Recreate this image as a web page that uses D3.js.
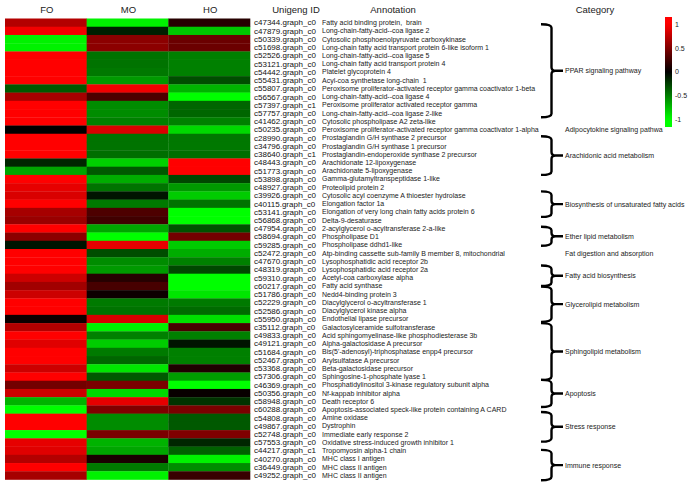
<!DOCTYPE html>
<html><head><meta charset="utf-8">
<script src="https://cdn.jsdelivr.net/npm/d3@7"></script>
<style>
html,body{margin:0;padding:0;background:#fff;}
svg{display:block;font-family:"Liberation Sans",Arial,sans-serif;}
</style></head>
<body><svg id="chart" width="689" height="483"></svg>
<script>
const samples = ["FO","MO","HO"];
const ids = ["c47344.graph_c0","c47879.graph_c0","c50339.graph_c0","c51698.graph_c0","c52526.graph_c0","c53121.graph_c0","c54442.graph_c0","c55431.graph_c0","c55807.graph_c0","c56567.graph_c0","c57397.graph_c1","c57757.graph_c0","c41462.graph_c0","c50235.graph_c0","c28990.graph_c0","c34796.graph_c0","c38640.graph_c1","c48443.graph_c0","c51773.graph_c0","c53898.graph_c0","c48927.graph_c0","c39926.graph_c0","c40115.graph_c0","c53141.graph_c0","c56868.graph_c0","c47954.graph_c0","c58694.graph_c0","c59285.graph_c0","c52472.graph_c0","c47670.graph_c0","c48319.graph_c0","c59310.graph_c0","c60217.graph_c0","c51786.graph_c0","c52229.graph_c0","c52586.graph_c0","c55950.graph_c0","c35112.graph_c0","c49833.graph_c0","c49121.graph_c0","c51684.graph_c0","c52467.graph_c0","c53368.graph_c0","c57306.graph_c0","c46369.graph_c0","c50356.graph_c0","c58948.graph_c0","c60288.graph_c0","c54808.graph_c0","c49867.graph_c0","c52748.graph_c0","c57553.graph_c0","c44217.graph_c1","c40270.graph_c0","c36449.graph_c0","c49252.graph_c0"];
const annotations = ["Fatty acid binding protein,  brain","Long-chain-fatty-acid--coa ligase 2","Cytosolic phosphoenolpyruvate carboxykinase","Long-chain fatty acid transport protein 6-like isoform 1","Long-chain-fatty-acid--coa ligase 5","Long-chain fatty acid transport protein 4","Platelet glycoprotein 4","Acyl-coa synthetase long-chain  1","Peroxisome proliferator-activated receptor gamma coactivator 1-beta","Long-chain-fatty-acid--coa ligase 4","Peroxisome proliferator activated receptor gamma","Long-chain-fatty-acid--coa ligase 2-like","Cytosolic phospholipase A2 zeta-like","Peroxisome proliferator-activated receptor gamma coactivator 1-alpha","Prostaglandin G/H synthase 2 precursor","Prostaglandin G/H synthase 1 precursor","Prostaglandin-endoperoxide synthase 2 precursor","Arachidonate 12-lipoxygenase","Arachidonate 5-lipoxygenase","Gamma-glutamyltranspeptidase 1-like","Proteolipid protein 2","Cytosolic acyl coenzyme A thioester hydrolase","Elongation factor 1a","Elongation of very long chain fatty acids protein 6","Delta-9-desaturase","2-acylglycerol o-acyltransferase 2-a-like","Phospholipase D1","Phospholipase ddhd1-like","Atp-binding cassette sub-family B member 8, mitochondrial","Lysophosphatidic acid receptor 2b","Lysophosphatidic acid receptor 2a","Acetyl-coa carboxylase alpha","Fatty acid synthase","Nedd4-binding protein 3","Diacylglycerol o-acyltransferase 1","Diacylglycerol kinase alpha","Endothelial lipase precursor","Galactosylceramide sulfotransferase","Acid sphingomyelinase-like phosphodiesterase 3b","Alpha-galactosidase A precursor","Bis(5'-adenosyl)-triphosphatase enpp4 precursor","Arylsulfatase A precursor","Beta-galactosidase precursor","Sphingosine-1-phosphate lyase 1","Phosphatidylinositol 3-kinase regulatory subunit alpha","Nf-kappab inhibitor alpha","Death receptor 6","Apoptosis-associated speck-like protein containing A CARD","Amine oxidase","Dystrophin","Immediate early response 2","Oxidative stress-induced growth inhibitor 1","Tropomyosin alpha-1 chain","MHC class I antigen","MHC class II antigen","MHC class II antigen"];
const foValues = [0.7,0.95,-0.95,-0.95,1,1,1,1,-0.35,0.65,1,1,1,0,1,1,1,-0.15,-0.65,1,0.9,0.85,1,0.65,0.6,1,0.55,-0.08,1,1,1,0.8,0.63,0.8,1,1,0.05,0.7,1,0.88,1,1,0.8,1,0.45,0.8,-0.7,-1,1,1,-1,0.9,0.88,0.7,1,0.65];
const moValues = [-0.95,-0.12,0.55,0.55,-0.45,-0.45,-0.47,-0.6,0.95,0.3,-0.55,-0.55,-0.5,0.85,-0.45,-0.45,-0.43,-0.82,-0.35,-0.68,-0.45,-0.08,-0.48,0.3,0.25,-0.65,-1,0.9,-0.3,-0.55,-0.6,0.15,0.28,0.05,-0.48,-0.45,0.85,-0.95,-0.5,-0.8,-0.48,-0.4,-0.9,-0.35,0.48,-0.85,0.9,0.5,-0.55,-0.55,0.48,-0.7,-0.65,0.1,-0.48,-0.95];
const hoValues = [0.15,-0.78,0.42,0.42,-0.5,-0.5,-0.5,-0.3,-0.7,-1,-0.4,-0.4,-0.5,-0.85,-0.47,-0.47,-0.43,1,1,-0.28,-0.6,-0.8,-0.45,-1,-1,-0.32,0.45,-0.8,-0.68,-0.5,-0.28,-1,-1,-0.9,-0.48,-0.42,-0.88,0.28,-0.5,-0.08,-0.5,-0.5,0.12,-0.62,-1,0.03,-0.2,0.48,-0.35,-0.35,0.5,-0.15,-0.38,-0.95,-0.55,0.22];
// categories: span in row units (1 = first row)
const catNames = ["PPAR signaling pathway","Adipocytokine signaling pathwa","Arachidonic acid metabolism","Biosynthesis of unsaturated fatty acids","Ether lipid metabolism","Fat digestion and absorption","Fatty acid biosynthesis","Glycerolipid metabolism","Sphingolipid metabolism","Apoptosis","Stress response","Immune response"];
const catFrom = [1.2,14,14.8,21.5,25.8,29,30.5,33.05,37.5,44.4,48.3,52.9];
const catTo   = [12.5,14,19.5,24.6,28.1,29,33.0,37.35,44.4,47.7,51.9,56.6];
const legendTicks = [1,0.5,0,-0.5,-1];
const legendDomain = [-1.15,1.15];

const svg = d3.select("#chart");
const color = d3.scaleLinear().domain([-1,0,1]).range(["#00ff00","#000000","#ff0000"]).clamp(true);

const x = d3.scaleBand().domain(samples).range([5,250]);
const y = d3.scaleBand().domain(ids).range([18.5,479.5]);
const yRow = d3.scaleLinear().domain([0.5, ids.length+0.5]).range([18.5,479.5]);

const values = {FO: foValues, MO: moValues, HO: hoValues};
const cells = [];
samples.forEach(s => ids.forEach((id,i) => cells.push({s, id, v: values[s][i]})));

svg.append("g").selectAll("rect").data(cells).join("rect")
  .attr("x", d => x(d.s)).attr("y", d => y(d.id))
  .attr("width", x.bandwidth()+0.3).attr("height", y.bandwidth()+0.3)
  .attr("fill", d => color(d.v));

// column headers
svg.append("g").selectAll("text").data(samples).join("text")
  .attr("x", d => x(d) + x.bandwidth()/2 + 1).attr("y", 12.5)
  .attr("text-anchor","middle").attr("font-size","9.5px").attr("fill","#222").text(d => d);
const headers = [{t:"Unigeng ID", x:296},{t:"Annotation", x:393},{t:"Category", x:595}];
svg.append("g").selectAll("text").data(headers).join("text")
  .attr("x", d => d.x).attr("y", 12.5).attr("text-anchor","middle")
  .attr("font-size","9.5px").attr("fill","#222").text(d => d.t);

// row labels
svg.append("g").selectAll("text").data(ids).join("text")
  .attr("x", 254).attr("y", d => y(d) + y.bandwidth()/2).attr("dy","0.35em")
  .attr("font-size","8px").attr("fill","#111").text(d => d);
svg.append("g").selectAll("text").data(annotations).join("text")
  .attr("x", 322).attr("y", (d,i) => y(ids[i]) + y.bandwidth()/2).attr("dy","0.35em")
  .attr("font-size","7px").attr("fill","#222").style("white-space","pre").attr("xml:space","preserve").text(d => d);

// category braces
const cats = catNames.map((n,i) => ({n, a: catFrom[i], b: catTo[i]}));
const xl = 541, xv = 551.5, xt = 563;
function bracePath(y0, y1){
  const ym = (y0+y1)/2, r = 3.5;
  return `M${xl},${y0} Q${xv},${y0} ${xv},${y0+r} L${xv},${ym-r} Q${xv},${ym} ${xv+4},${ym} L${xt},${ym}` +
         ` M${xv+4},${ym} Q${xv},${ym} ${xv},${ym+r} L${xv},${y1-r} Q${xv},${y1} ${xl},${y1}`;
}
svg.append("g").selectAll("path").data(cats.filter(c => c.b > c.a)).join("path")
  .attr("d", c => bracePath(yRow(c.a), yRow(c.b)))
  .attr("fill","none").attr("stroke","#000").attr("stroke-width",2.4).attr("stroke-linejoin","round");
svg.append("g").selectAll("text").data(cats).join("text")
  .attr("x", 565).attr("y", c => yRow((c.a+c.b)/2)).attr("dy","0.35em")
  .attr("font-size","7px").attr("fill","#222").text(c => c.n);

// color legend
const ly = d3.scaleLinear().domain(legendDomain).range([127,17]);
const defs = svg.append("defs");
const grad = defs.append("linearGradient").attr("id","lg").attr("x1",0).attr("y1",1).attr("x2",0).attr("y2",0);
d3.range(0,1.0001,0.05).forEach(t => {
  const v = legendDomain[0] + t*(legendDomain[1]-legendDomain[0]);
  grad.append("stop").attr("offset", t).attr("stop-color", color(v));
});
svg.append("rect").attr("x",665).attr("y",ly(legendDomain[1])).attr("width",7)
  .attr("height", ly(legendDomain[0]) - ly(legendDomain[1])).attr("fill","url(#lg)");
svg.append("g").selectAll("text").data(legendTicks).join("text")
  .attr("x",675).attr("y", d => ly(d)).attr("dy","0.35em")
  .attr("font-size","7px").attr("fill","#222").text(d => d);
</script></body></html>
